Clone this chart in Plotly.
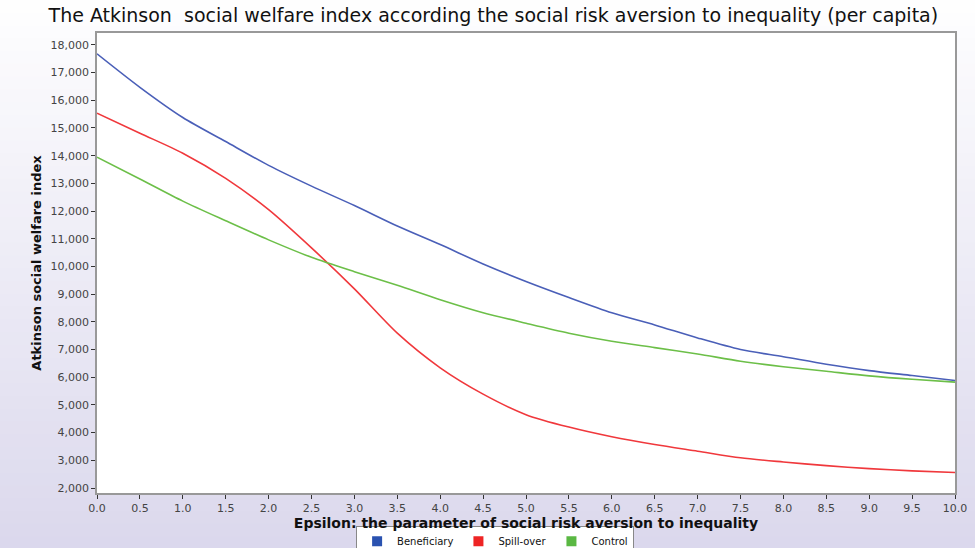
import plotly.graph_objects as go

epsilon = [0.0, 0.5, 1.0, 1.5, 2.0, 2.5, 3.0, 3.5, 4.0, 4.5, 5.0,
           5.5, 6.0, 6.5, 7.0, 7.5, 8.0, 8.5, 9.0, 9.5, 10.0]
beneficiary = [17680, 16470, 15380, 14510, 13650, 12900, 12200, 11460, 10790, 10090, 9460,
               8880, 8330, 7890, 7420, 7000, 6740, 6470, 6240, 6060, 5880]
spill_over = [15535, 14810, 14090, 13180, 12050, 10670, 9190, 7590, 6340, 5390, 4650,
              4200, 3850, 3570, 3330, 3090, 2940, 2810, 2700, 2620, 2560]
control = [13945, 13160, 12360, 11650, 10960, 10330, 9810, 9320, 8800, 8330, 7950,
           7590, 7300, 7070, 6840, 6580, 6380, 6215, 6050, 5925, 5825]

series_names = ["Beneficiary", "Spill-over", "Control"]
line_colors = ["#4a5fb8", "#f0383c", "#6cbf48"]
legend_colors = ["#2a52b0", "#ee2424", "#5ab843"]

fig = go.Figure()
for name, vals, lc in zip(series_names, [beneficiary, spill_over, control], line_colors):
    fig.add_trace(go.Scatter(x=epsilon, y=vals, mode="lines", name=name,
                             line=dict(color=lc, width=1.6, shape="spline", smoothing=0.8),
                             showlegend=False, hoverinfo="x+y"))
for name, lc in zip(series_names, legend_colors):
    fig.add_trace(go.Scatter(x=[None], y=[None], mode="markers", name=name,
                             marker=dict(symbol="square", size=10, color=lc)))

# background gradient (white at top to lavender at bottom)
shapes = []
n = 45
y_top = 1.10
y_bot = -0.15
for i in range(n):
    f = (i + 0.5) / n
    r = round(255 - (255 - 218) * f)
    g = round(255 - (255 - 215) * f)
    b = round(255 - (255 - 236) * f)
    y1 = y_top - (y_top - y_bot) * i / n
    y0 = y_top - (y_top - y_bot) * (i + 1) / n
    shapes.append(dict(type="rect", xref="paper", yref="paper", x0=-0.15, x1=1.05,
                       y0=y0 - 0.003, y1=y1, fillcolor=f"rgb({r},{g},{b})",
                       line=dict(width=0), layer="below"))
shapes.append(dict(type="rect", xref="paper", yref="paper", x0=0, x1=1, y0=0, y1=1,
                   fillcolor="white", line=dict(width=0), layer="below"))

fig.update_layout(
    width=975, height=548,
    margin=dict(l=97, r=20, t=33, b=55, autoexpand=False),
    paper_bgcolor="white", plot_bgcolor="white",
    shapes=shapes,
    title=dict(text="The Atkinson  social welfare index according the social risk aversion to inequality (per capita)",
               x=0.506, xanchor="center", y=0.972, yanchor="middle",
               font=dict(family="DejaVu Sans", size=19, color="#111111")),
    font=dict(family="DejaVu Sans", size=11, color="#444444"),
    xaxis=dict(range=[0, 10], dtick=0.5, tick0=0, tickformat=".1f", automargin=False,
               showgrid=False, zeroline=False, showline=True, linecolor="#999999", linewidth=1.5,
               mirror=True, ticks="outside", ticklen=4, tickcolor="#333333",
               tickfont=dict(size=11, color="#444444"),
               title=dict(text="<b>Epsilon: the parameter of social risk aversion to inequality</b>",
                          font=dict(size=14, color="#111111"), standoff=2)),
    yaxis=dict(range=[1820, 18430], dtick=1000, tick0=0, tickformat=",d", automargin=False,
               showgrid=False, zeroline=False, showline=True, linecolor="#999999", linewidth=1.5,
               mirror=True, ticks="outside", ticklen=4, tickcolor="#333333",
               tickfont=dict(size=11, color="#444444"),
               title=dict(text="<b>Atkinson social welfare index</b>",
                          font=dict(size=13, color="#111111"), standoff=6)),
    legend=dict(orientation="h", x=0.464, xanchor="center", y=-0.071, yanchor="top",
                bgcolor="white", bordercolor="#888888", borderwidth=1,
                font=dict(size=10, color="#111111"), itemwidth=30,
                tracegroupgap=0),
)

fig.write_html("out.html", config={"displayModeBar": False},
               post_script="document.body.style.margin='0';document.body.style.overflow='hidden';")
